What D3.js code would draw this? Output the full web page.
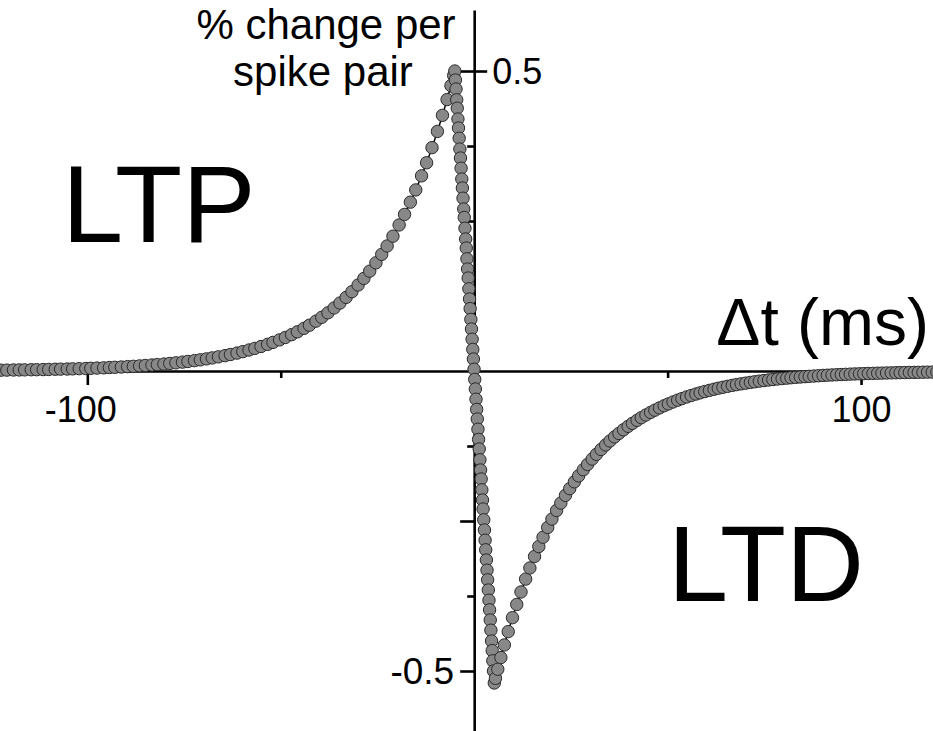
<!DOCTYPE html>
<html>
<head>
<meta charset="utf-8">
<script src="https://cdn.jsdelivr.net/npm/d3@7"></script>
<style>
  html, body { margin: 0; padding: 0; background: #fff; }
  svg { display: block; }
  text { font-family: "Liberation Sans", Arial, Helvetica, sans-serif; fill: #000; }
</style>
</head>
<body>
<svg id="chart" width="933" height="731"></svg>
<script>
// Spike-timing-dependent plasticity: % change per spike pair vs. spike timing Δt (ms)

// LTP branch (pre before post, Δt < 0)
const ltpDeltaT = [-123.4, -122.3, -120.8, -119.1, -117.6, -116.2, -114.5, -113.1, -111.4, -110.0,
  -108.3, -106.9, -105.2, -103.8, -102.1, -100.4, -99.1, -97.5, -95.8, -94.3,
  -92.9, -91.2, -89.6, -88.1, -86.5, -85.0, -83.3, -81.9, -80.2, -78.7,
  -77.1, -75.4, -74.0, -72.3, -70.8, -69.2, -67.7, -66.1, -64.4, -63.0,
  -61.3, -59.8, -58.2, -56.7, -55.1, -53.4, -52.0, -50.3, -48.8, -47.2,
  -45.7, -44.0, -42.6, -40.9, -39.4, -37.8, -36.2, -34.7, -33.1, -31.6,
  -30.0, -28.5, -27.0, -25.4, -23.9, -22.5, -21.0, -19.4, -18.0, -16.5,
  -15.1, -13.6, -12.3, -10.9, -9.5, -8.2, -7.0, -6.0, -5.3];
const ltpChange = [0.0013, 0.0014, 0.0015, 0.0017, 0.0018, 0.0019, 0.0021, 0.0022, 0.0024, 0.0026,
  0.0029, 0.0031, 0.0033, 0.0036, 0.0039, 0.0042, 0.0045, 0.0049, 0.0053, 0.0058,
  0.0062, 0.0067, 0.0073, 0.0078, 0.0085, 0.0092, 0.0100, 0.0107, 0.0116, 0.0126,
  0.0136, 0.0148, 0.0159, 0.0173, 0.0186, 0.0202, 0.0218, 0.0236, 0.0256, 0.0275,
  0.0299, 0.0323, 0.0350, 0.0377, 0.0408, 0.0444, 0.0477, 0.0519, 0.0559, 0.0606,
  0.0653, 0.0711, 0.0763, 0.0831, 0.0895, 0.0970, 0.1051, 0.1133, 0.1227, 0.1322,
  0.1433, 0.1544, 0.1664, 0.1803, 0.1944, 0.2084, 0.2247, 0.2434, 0.2610, 0.2814,
  0.3018, 0.3253, 0.3471, 0.3723, 0.3993, 0.4261, 0.4524, 0.4756, 0.4925];

// Steep transition around Δt = 0
const transitionDeltaT = [-5.0, -4.85, -4.7, -4.52, -4.38, -4.2, -4.05, -3.88, -3.7, -3.55,
  -3.38, -3.2, -3.05, -2.88, -2.7, -2.56, -2.38, -2.2, -2.05, -1.87,
  -1.7, -1.55, -1.37, -1.2, -1.04, -0.86, -0.7, -0.53, -0.36, -0.2,
  -0.03, 0.14, 0.3, 0.47, 0.64, 0.8, 0.97, 1.14, 1.3, 1.48,
  1.65, 1.8, 1.98, 2.15, 2.3, 2.48, 2.65, 2.82, 2.98, 3.15,
  3.32, 3.48, 3.65, 3.82, 3.98, 4.15, 4.32, 4.5, 4.66, 4.83, 5.0, 5.2];
const transitionChange = [0.500, 0.485, 0.470, 0.452, 0.438, 0.420, 0.405, 0.388, 0.370, 0.355,
  0.338, 0.320, 0.305, 0.288, 0.270, 0.256, 0.238, 0.220, 0.205, 0.187,
  0.170, 0.155, 0.137, 0.120, 0.104, 0.086, 0.070, 0.053, 0.036, 0.020,
  0.003, -0.014, -0.030, -0.047, -0.064, -0.080, -0.097, -0.114, -0.130, -0.148,
  -0.165, -0.180, -0.198, -0.215, -0.230, -0.248, -0.265, -0.282, -0.298, -0.315,
  -0.332, -0.348, -0.365, -0.382, -0.398, -0.415, -0.432, -0.450, -0.466, -0.483, -0.500, -0.520];

// LTD branch (post before pre, Δt > 0)
const ltdDeltaT = [5.5, 6.1, 6.9, 7.8, 8.8, 9.9, 11.0, 12.1, 13.3, 14.4,
  15.6, 16.7, 17.8, 19.0, 20.1, 21.3, 22.4, 23.6, 24.7, 25.9,
  27.0, 28.2, 29.3, 30.5, 31.6, 32.8, 34.0, 35.1, 36.3, 37.4,
  38.6, 39.8, 40.9, 42.1, 43.2, 44.4, 45.6, 46.7, 47.9, 49.1,
  50.2, 51.4, 52.6, 53.7, 54.9, 56.1, 57.3, 58.4, 59.6, 60.8,
  62.0, 63.1, 64.3, 65.5, 66.7, 67.8, 69.0, 70.2, 71.4, 72.5,
  73.7, 74.9, 76.1, 77.2, 78.4, 79.6, 80.8, 81.9, 83.1, 84.3,
  85.5, 86.6, 87.8, 89.0, 90.2, 91.3, 92.5, 93.7, 94.9, 96.0,
  97.2, 98.4, 99.6, 100.7, 101.9, 103.1, 104.3, 105.4, 106.6, 107.8,
  109.0, 110.1, 111.3, 112.5, 113.7, 114.8, 116.0, 117.2, 118.4, 119.6];
const ltdChange = [-0.5122, -0.4971, -0.4776, -0.4566, -0.4344, -0.4111, -0.3891, -0.3683, -0.3468, -0.3283,
  -0.3091, -0.2926, -0.2770, -0.2608, -0.2468, -0.2325, -0.2201, -0.2072, -0.1961, -0.1847,
  -0.1748, -0.1646, -0.1558, -0.1468, -0.1389, -0.1308, -0.1232, -0.1166, -0.1098, -0.1040,
  -0.0979, -0.0922, -0.0873, -0.0822, -0.0778, -0.0733, -0.0690, -0.0653, -0.0615, -0.0579,
  -0.0548, -0.0516, -0.0486, -0.0460, -0.0433, -0.0408, -0.0384, -0.0364, -0.0342, -0.0323,
  -0.0304, -0.0287, -0.0271, -0.0255, -0.0240, -0.0227, -0.0214, -0.0202, -0.0190, -0.0180,
  -0.0169, -0.0159, -0.0150, -0.0142, -0.0134, -0.0126, -0.0119, -0.0112, -0.0106, -0.0100,
  -0.0094, -0.0089, -0.0084, -0.0079, -0.0074, -0.0070, -0.0066, -0.0062, -0.0059, -0.0056,
  -0.0052, -0.0049, -0.0046, -0.0044, -0.0041, -0.0039, -0.0037, -0.0035, -0.0033, -0.0031,
  -0.0029, -0.0027, -0.0026, -0.0024, -0.0023, -0.0022, -0.0020, -0.0019, -0.0018, -0.0017];

// Axis ticks and labels
const xMajorTicks = [-100, 100];
const xMinorTicks = [-50, 50];
const xTickLabels = ["-100", "100"];
const yMajorTicks = [-0.5, -0.25, 0.25, 0.5];
const yMinorTicks = [-0.375, -0.125, 0.125, 0.375];
const yTickLabels = ["-0.5", "0.5"];

const width = 933, height = 731;
const svg = d3.select("#chart");

const x = d3.scaleLinear().domain([-122.57, 118.6]).range([0, width]);
const y = d3.scaleLinear().domain([0.6017, -0.6]).range([10, height]);

const points = []
  .concat(ltpDeltaT.map((t, i) => ({ t, v: ltpChange[i] })))
  .concat(transitionDeltaT.map((t, i) => ({ t, v: transitionChange[i] })))
  .concat(ltdDeltaT.map((t, i) => ({ t, v: ltdChange[i] })))
  .sort((a, b) => a.t - b.t);

const axisStroke = 2.6;

// x axis through zero
const xAxisMajor = svg.append("g")
  .attr("transform", `translate(0,${y(0)})`)
  .call(d3.axisBottom(x).tickValues(xMajorTicks).tickSize(14).tickSizeOuter(0)
    .tickPadding(11).tickFormat((d, i) => xTickLabels[i]));
const xAxisMinor = svg.append("g")
  .attr("transform", `translate(0,${y(0)})`)
  .call(d3.axisBottom(x).tickValues(xMinorTicks).tickSize(7).tickSizeOuter(0).tickFormat(""));
xAxisMinor.select(".domain").remove();

// y axis through zero
const yAxisMajor = svg.append("g")
  .attr("transform", `translate(${x(0)},0)`)
  .call(d3.axisLeft(y).tickValues(yMajorTicks).tickSize(14).tickSizeOuter(0).tickFormat(""));
const yAxisMinor = svg.append("g")
  .attr("transform", `translate(${x(0)},0)`)
  .call(d3.axisLeft(y).tickValues(yMinorTicks).tickSize(7).tickSizeOuter(0).tickFormat(""));
yAxisMinor.select(".domain").remove();
const yAxisRight = svg.append("g")
  .attr("transform", `translate(${x(0)},0)`)
  .call(d3.axisRight(y).tickValues([0.5]).tickSize(13).tickSizeOuter(0).tickFormat(""));
yAxisRight.select(".domain").remove();

svg.selectAll(".domain, .tick line")
  .attr("stroke", "#000")
  .attr("stroke-width", axisStroke);

xAxisMajor.selectAll(".tick text")
  .attr("font-size", 36)
  .attr("font-family", "'Liberation Sans', Arial, sans-serif")
  .attr("fill", "#000")
  .attr("dx", d => d < 0 ? -7 : 0);

// y tick labels: 0.5 to the right of the axis, -0.5 to the left
svg.append("text")
  .attr("x", x(0) + 18).attr("y", y(0.5))
  .attr("dy", "0.36em")
  .attr("font-size", 36)
  .text(yTickLabels[1]);
svg.append("text")
  .attr("x", x(0) - 20).attr("y", y(-0.5))
  .attr("dy", "0.36em")
  .attr("text-anchor", "end")
  .attr("font-size", 37)
  .text(yTickLabels[0]);

// Axis titles
const yTitle = svg.append("text")
  .attr("text-anchor", "middle")
  .attr("font-size", 42);
yTitle.append("tspan").attr("x", 326).attr("y", 39).text("% change per");
yTitle.append("tspan").attr("x", 323).attr("y", 86).text("spike pair");

svg.append("text")
  .attr("x", 929).attr("y", 345)
  .attr("text-anchor", "end")
  .attr("font-size", 66)
  .text("\u0394t (ms)");

// Region labels
svg.append("text").attr("x", 62).attr("y", 242).attr("font-size", 110).text("LTP");
svg.append("text").attr("x", 668).attr("y", 601).attr("font-size", 108).text("LTD");

// Curve through the samples, then the sample markers
svg.append("path")
  .datum(points)
  .attr("fill", "none")
  .attr("stroke", "#000")
  .attr("stroke-width", 1.5)
  .attr("d", d3.line().x(d => x(d.t)).y(d => y(d.v)));

svg.append("g")
  .selectAll("circle")
  .data(points)
  .join("circle")
  .attr("cx", d => x(d.t))
  .attr("cy", d => y(d.v))
  .attr("r", 6.2)
  .attr("fill", "#888888")
  .attr("stroke", "#2a2a2a")
  .attr("stroke-width", 1);
</script>
</body>
</html>
